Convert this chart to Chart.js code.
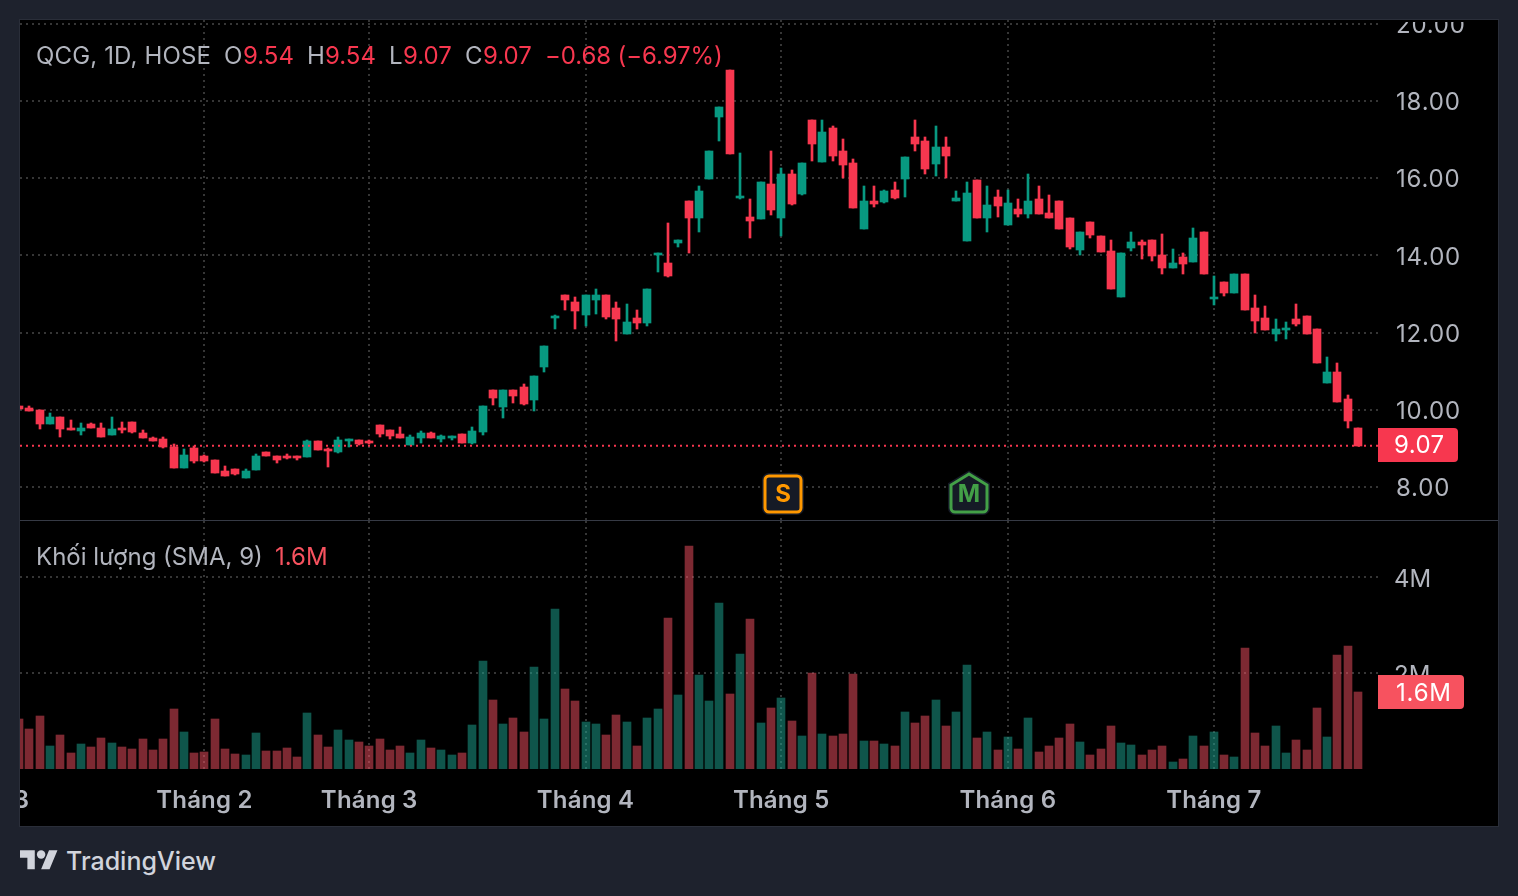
<!DOCTYPE html>
<html lang="vi">
<head>
<meta charset="utf-8">
<title>QCG, 1D, HOSE</title>
<script src="https://cdn.jsdelivr.net/npm/chart.js@4"></script>
<style>
html,body{margin:0;padding:0;width:1518px;height:896px;overflow:hidden;background:#1e222d;font-family:Inter,"Noto Sans",sans-serif;}
#panel{position:absolute;left:19px;top:19px;width:1478px;height:806px;border:1px solid #2a2e39;background:#000;}
canvas{position:absolute;left:20px;display:block;}
#sep{position:absolute;left:20px;top:520px;width:1478px;height:1px;background:#363a45;}
.t{position:absolute;font-size:24px;line-height:30px;white-space:pre;color:#b2b5be;}
.r{color:#f7374f;}
.v{color:#f7525f;}
#brand{position:absolute;left:66px;top:845px;font-size:25px;line-height:32px;font-weight:500;color:#d1d4dc;}
#logo{position:absolute;left:20px;top:846px;fill:#d1d4dc;}
</style>
</head>
<body>
<div id="panel"></div>
<canvas id="priceChart" width="1478" height="500" style="top:20px;width:1478px;height:500px"></canvas>
<canvas id="volumeChart" width="1478" height="305" style="top:521px;width:1478px;height:305px"></canvas>
<div id="sep"></div>

<span class="t" style="left:36px;top:41px;letter-spacing:0.15px">QCG, 1D, HOSE</span>
<span class="t" style="left:224px;top:41px">O</span><span class="t r" style="left:243px;top:41px">9.54</span>
<span class="t" style="left:307px;top:41px">H</span><span class="t r" style="left:325px;top:41px">9.54</span>
<span class="t" style="left:389px;top:41px">L</span><span class="t r" style="left:403px;top:41px">9.07</span>
<span class="t" style="left:465px;top:41px">C</span><span class="t r" style="left:483px;top:41px">9.07</span>
<span class="t r" style="left:545px;top:41px;letter-spacing:-0.1px">−0.68 (−6.97%)</span>
<span class="t" style="left:36px;top:542px">Khối lượng (SMA, 9)</span>
<span class="t v" style="left:275px;top:542px">1.6M</span>

<svg id="logo" width="38" height="29.6" viewBox="0 0 36 28"><path d="M14 22H7V11H0V4h14v18zM28 22h-8l7.5-18h8L28 22z"/><circle cx="20" cy="8" r="4"/></svg>
<div id="brand">TradingView</div>

<script>
const opens = [10.10,10.05,10.00,9.63,9.81,9.53,9.45,9.63,9.53,9.35,
9.53,9.68,9.40,9.27,9.24,9.04,8.49,9.01,8.80,8.70,
8.41,8.47,8.23,8.44,8.91,8.80,8.80,8.80,8.78,9.19,
8.98,8.91,9.19,9.22,9.19,9.60,9.48,9.37,9.09,9.27,
9.40,9.24,9.27,9.37,9.14,9.42,10.50,10.06,10.50,10.60,
10.26,11.12,12.39,12.98,12.80,12.46,12.85,12.98,12.65,11.97,
12.39,12.26,14.02,13.79,14.33,15.40,14.96,15.97,17.58,18.80,
15.48,14.99,14.94,15.84,14.96,16.10,15.59,17.50,16.41,17.30,
16.70,16.39,14.68,15.40,15.38,15.69,15.97,17.06,16.96,16.36,
16.80,15.40,14.37,15.95,14.96,15.51,14.78,15.20,15.07,15.46,
15.09,15.40,14.96,14.13,14.86,14.50,14.11,12.92,14.19,14.34,
14.39,14.00,13.67,13.95,13.82,14.60,12.87,13.30,13.02,13.51,
12.65,12.39,11.97,12.08,12.34,12.44,12.10,10.70,10.99,10.29,
9.54];
const highs = [10.10,10.10,10.00,9.92,9.81,9.73,9.66,9.66,9.66,9.81,
9.68,9.68,9.48,9.29,9.29,9.11,8.98,9.06,8.83,8.70,
8.54,8.47,8.47,8.85,8.91,8.80,8.85,8.80,9.22,9.19,
9.01,9.29,9.24,9.22,9.22,9.60,9.48,9.55,9.35,9.45,
9.42,9.35,9.32,9.37,9.55,10.10,10.50,10.50,10.50,10.68,
10.88,11.64,12.46,12.98,12.93,12.98,13.14,12.98,12.80,12.75,
12.59,13.14,14.07,14.85,14.41,15.40,15.79,16.70,17.84,18.80,
16.65,15.46,15.90,16.70,16.26,16.21,16.39,17.50,17.50,17.35,
17.01,16.49,15.79,15.79,15.69,15.90,16.54,17.50,17.06,17.35,
17.06,15.66,15.90,15.95,15.79,15.69,15.69,15.46,16.10,15.79,
15.56,15.40,14.96,14.60,14.86,14.50,14.39,14.06,14.60,14.39,
14.39,14.55,14.16,14.06,14.70,14.60,13.46,13.30,13.51,13.51,
12.98,12.70,12.34,12.28,12.75,12.44,12.10,11.38,11.20,10.39,
9.54];
const lows = [10.02,9.97,9.50,9.63,9.29,9.48,9.35,9.53,9.29,9.35,
9.40,9.40,9.27,9.19,9.01,8.49,8.49,8.62,8.65,8.36,
8.28,8.31,8.23,8.44,8.80,8.62,8.72,8.70,8.78,8.96,
8.52,8.88,9.04,9.08,9.11,9.29,9.24,9.27,9.09,9.14,
9.27,9.16,9.22,9.14,9.11,9.35,10.13,9.80,10.18,10.13,
9.98,10.99,12.10,12.59,12.10,12.18,12.49,12.34,11.79,11.97,
12.10,12.18,13.58,13.45,14.23,14.06,14.60,15.97,16.96,16.62,
15.46,14.45,14.94,15.04,14.50,15.30,15.56,16.44,16.41,16.44,
16.00,15.22,14.68,15.25,15.35,15.46,15.51,16.70,16.10,16.05,
16.00,15.40,14.37,14.96,14.60,14.99,14.78,14.99,14.96,15.07,
14.96,14.68,14.16,14.00,14.45,14.08,13.12,12.92,14.11,13.90,
13.85,13.51,13.67,13.51,13.82,13.51,12.71,12.94,13.02,12.58,
12.00,12.08,11.79,11.84,12.18,11.97,11.22,10.70,10.21,9.54,
9.07];
const closes = [10.02,9.97,9.63,9.81,9.50,9.48,9.53,9.53,9.29,9.50,
9.48,9.42,9.27,9.19,9.04,8.49,8.83,8.67,8.67,8.36,
8.28,8.34,8.41,8.80,8.80,8.70,8.75,8.75,9.19,8.96,
8.93,9.22,9.24,9.11,9.14,9.37,9.32,9.27,9.29,9.40,
9.27,9.32,9.32,9.14,9.45,10.10,10.31,10.50,10.37,10.16,
10.88,11.64,12.44,12.85,12.57,12.98,12.98,12.41,12.36,12.28,
12.26,13.14,14.07,13.47,14.41,14.96,15.66,16.70,17.84,16.62,
15.53,14.89,15.90,15.17,16.10,15.33,16.39,16.88,17.19,16.57,
16.34,15.22,15.40,15.33,15.66,15.48,16.54,16.88,16.23,16.80,
16.57,15.48,15.61,14.96,15.30,15.27,15.35,15.07,15.40,15.07,
14.96,14.68,14.21,14.60,14.52,14.08,13.12,14.06,14.34,14.26,
13.98,13.67,13.80,13.77,14.45,13.51,12.92,13.02,13.51,12.58,
12.31,12.08,12.10,12.13,12.21,11.97,11.22,10.99,10.21,9.72,
9.07];
const volumes = [1.04,.83,1.10,.48,.71,.33,.52,.46,.65,.54,
.46,.42,.63,.40,.63,1.25,.77,.33,.35,1.04,
.42,.31,.29,.75,.38,.38,.44,.25,1.17,.71,
.46,.81,.60,.56,.48,.63,.40,.48,.33,.60,
.44,.40,.29,.33,.92,2.25,1.44,.94,1.06,.77,
2.13,1.04,3.33,1.67,1.42,.98,.94,.71,1.13,.98,
.48,1.06,1.25,3.15,1.54,4.65,1.96,1.42,3.46,1.56,
2.40,3.13,.96,1.27,1.48,1.00,.69,2.00,.73,.69,
.73,1.98,.58,.58,.52,.48,1.19,.96,1.10,1.44,
.90,1.19,2.17,.65,.77,.40,.67,.42,1.06,.35,
.48,.65,.94,.56,.29,.42,.90,.54,.50,.29,
.40,.48,.15,.21,.69,.48,.77,.29,.25,2.52,
.75,.48,.90,.33,.60,.40,1.27,.67,2.38,2.56,
1.60];
const monthBars = [-2,18,34,55,74,96,116];
const monthLabels = ['2023','Tháng 2','Tháng 3','Tháng 4','Tháng 5','Tháng 6','Tháng 7'];
const priceTicks = [8,10,12,14,16,18,20];
const volumeTicks = [2,4];
const lastPrice = 9.07;
const lastVolume = 1.6;
const markers = [
  {bar:74, letter:'S', color:'#ff9800', shape:'box'},
  {bar:92, letter:'M', color:'#43a047', shape:'house'}
];

const UP = '#089981', DOWN = '#f7374f';
const UP_VOL = 'rgba(30,170,150,0.5)', DOWN_VOL = 'rgba(250,82,100,0.5)';
const GRID = '#363636', AXIS_TEXT = '#b2b5be';
const FONT = 'Inter, "Noto Sans", sans-serif';
const X_MIN = 0.097, X_MAX = 131.94;
const isUp = i => closes[i] >= opens[i];
const dotted = {color:GRID, lineWidth:2, drawTicks:false, offset:false};
const dottedBorder = {display:false, dash:[2,4]};
const noPad = s => { s.paddingLeft=0; s.paddingRight=0; s.paddingTop=0; s.paddingBottom=0; };

const snapBars = {
  id:'snapBars',
  afterDatasetsUpdate(chart){
    chart.getSortedVisibleDatasetMetas().forEach(m=>{
      if(m.type!=='bar') return;
      m.data.forEach(el=>{
        el.x=Math.round(el.x); el.y=Math.round(el.y); el.base=Math.round(el.base);
      });
    });
  }
};

function roundedRightBox(ctx,x,y,w,h,fill){
  ctx.fillStyle=fill;
  ctx.beginPath();
  ctx.roundRect(x,y,w,h,[0,4,4,0]);
  ctx.fill();
}

function tuneLabels(scale,spacing,dy){
  const draw=Object.getPrototypeOf(scale).drawLabels;
  scale.drawLabels=function(a){
    const c=this.ctx;
    c.save();
    c.letterSpacing=spacing;
    c.translate(0,dy);
    draw.call(this,a);
    c.restore();
  };
}

const priceDecor = {
  id:'priceDecor',
  afterDraw(chart){
    const ctx=chart.ctx, sx=chart.scales.x, sy=chart.scales.y, a=chart.chartArea;
    ctx.save();
    markers.forEach(m=>{
      const cx=Math.round(sx.getPixelForValue(m.bar))+2;
      const bottom=a.bottom-8;
      ctx.beginPath();
      if(m.shape==='box'){
        ctx.roundRect(cx-18,bottom-36,36,36,4);
      }else{
        ctx.moveTo(cx,bottom-38);
        ctx.lineTo(cx+18,bottom-27);
        ctx.lineTo(cx+18,bottom-4);
        ctx.arcTo(cx+18,bottom,cx+14,bottom,4);
        ctx.lineTo(cx-14,bottom);
        ctx.arcTo(cx-18,bottom,cx-18,bottom-4,4);
        ctx.lineTo(cx-18,bottom-27);
        ctx.closePath();
      }
      ctx.fillStyle='#151a26';
      ctx.strokeStyle='#151a26';
      ctx.lineWidth=6; ctx.stroke();
      ctx.fill();
      ctx.strokeStyle=m.color; ctx.lineWidth=3; ctx.stroke();
      ctx.fillStyle=m.color;
      ctx.font='700 24px '+FONT;
      ctx.textAlign='center'; ctx.textBaseline='middle';
      ctx.fillText(m.letter,cx,bottom-17);
    });
    const py=Math.round(sy.getPixelForValue(lastPrice));
    roundedRightBox(ctx,a.right,py-18,80,34,DOWN);
    ctx.fillStyle='#fff';
    ctx.font='400 24px '+FONT;
    ctx.letterSpacing='0.4px';
    ctx.textAlign='left'; ctx.textBaseline='middle';
    ctx.fillText(lastPrice.toFixed(2),a.right+16,py);
    ctx.restore();
  }
};

const volumeDecor = {
  id:'volumeDecor',
  afterDraw(chart){
    const ctx=chart.ctx, sy=chart.scales.y, a=chart.chartArea;
    const py=Math.round(sy.getPixelForValue(lastVolume));
    ctx.save();
    roundedRightBox(ctx,a.right,py-17,86,34,'#f7525f');
    ctx.fillStyle='#fff';
    ctx.font='400 24px '+FONT;
    ctx.letterSpacing='0.8px';
    ctx.textAlign='left'; ctx.textBaseline='middle';
    ctx.fillText(lastVolume.toFixed(1)+'M',a.right+18,py+2);
    ctx.restore();
  }
};

const barIndex = opens.map((_,i)=>i);
Chart.defaults.font.family = FONT;
const common = {
  responsive:false, animation:false, devicePixelRatio:1,
  layout:{padding:0, autoPadding:false},
  plugins:{legend:{display:false}, tooltip:{enabled:false}},
  events:[]
};

new Chart(document.getElementById('priceChart'),{
  type:'bar',
  data:{datasets:[
    {type:'line', data:[{x:X_MIN,y:lastPrice},{x:X_MAX,y:lastPrice}],
     borderColor:DOWN, borderWidth:2, borderDash:[2,4], pointRadius:0, fill:false},
    {label:'wick', data:barIndex.map(i=>({x:i,y:[lows[i],highs[i]]})),
     backgroundColor:c=>isUp(c.dataIndex)?UP:DOWN, barThickness:2, grouped:false},
    {label:'body', data:barIndex.map(i=>({x:i,y:[opens[i],closes[i]]})),
     backgroundColor:c=>isUp(c.dataIndex)?UP:DOWN, barThickness:8, grouped:false}
  ]},
  options:{...common,
    scales:{
      x:{type:'linear', offset:false, min:X_MIN, max:X_MAX, border:dottedBorder, grid:dotted,
         ticks:{display:false},
         afterBuildTicks(s){ s.ticks=monthBars.slice(1).map(v=>({value:v})); },
         afterFit(s){ noPad(s); }},
      y:{type:'linear', position:'right', min:7.145, max:20.098, border:dottedBorder, grid:dotted,
         afterBuildTicks(s){ s.ticks=priceTicks.map(v=>({value:v})); },
         afterFit(s){ s.width=120; noPad(s); tuneLabels(s,'0.8px',2); },
         ticks:{color:AXIS_TEXT, padding:18, autoSkip:false, font:{size:24,weight:'400'},
                callback:v=>Number(v).toFixed(2)}}
    }
  },
  plugins:[snapBars,priceDecor]
});

new Chart(document.getElementById('volumeChart'),{
  type:'bar',
  data:{datasets:[
    {label:'volume', data:barIndex.map(i=>({x:i,y:volumes[i]})),
     backgroundColor:c=>isUp(c.dataIndex)?UP_VOL:DOWN_VOL, barThickness:8, grouped:false}
  ]},
  options:{...common,
    scales:{
      x:{type:'linear', position:'bottom', offset:false, min:X_MIN, max:X_MAX, border:dottedBorder, grid:dotted,
         afterBuildTicks(s){ s.ticks=monthBars.map(v=>({value:v})); },
         afterFit(s){ s.height=57; noPad(s); tuneLabels(s,'0.2px',0); },
         ticks:{color:AXIS_TEXT, padding:17, autoSkip:false, maxRotation:0, minRotation:0,
                font:{size:24,weight:'600'},
                callback:v=>monthLabels[monthBars.indexOf(v)]}},
      y:{type:'linear', position:'right', min:0, max:5.167, border:dottedBorder, grid:dotted,
         afterBuildTicks(s){ s.ticks=volumeTicks.map(v=>({value:v})); },
         afterFit(s){ s.width=120; noPad(s); tuneLabels(s,'0px',3); },
         ticks:{color:AXIS_TEXT, padding:16, autoSkip:false, font:{size:24,weight:'400'},
                callback:v=>v+'M'}}
    }
  },
  plugins:[snapBars,volumeDecor]
});
</script>
</body>
</html>
